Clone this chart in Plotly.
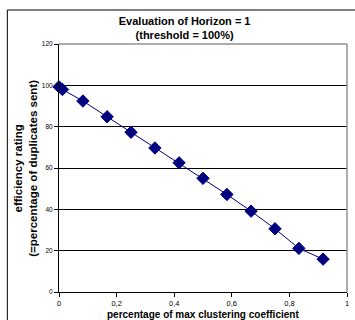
import plotly.graph_objects as go

clustering_pct = [0.0, 0.012, 0.083, 0.167, 0.25, 0.333, 0.417, 0.5, 0.583, 0.667, 0.75, 0.833, 0.917]
efficiency = [99.3, 98.0, 92.4, 84.8, 77.3, 69.7, 62.5, 55.0, 47.2, 39.1, 30.6, 21.1, 15.9]
x_ticks = [0, 0.2, 0.4, 0.6, 0.8, 1]
y_ticks = [0, 20, 40, 60, 80, 100, 120]

FONT = "Liberation Sans, Arial, sans-serif"
NAVY = "#000080"

fig = go.Figure()
fig.add_trace(go.Scatter(
    x=clustering_pct, y=efficiency, mode="lines+markers",
    line=dict(color=NAVY, width=1),
    marker=dict(symbol="diamond", size=9.5, color=NAVY, line=dict(color=NAVY, width=1)),
    showlegend=False, cliponaxis=False,
))

L, R, T, B = 59, 6, 44, 28
W, H = 355, 320
pw = W - L - R
ph = H - T - B

def px_x(p):
    return (p - L) / pw

def px_y(p):
    return (H - B - p) / ph

fig.update_layout(
    width=W, height=H,
    margin=dict(l=L, r=R, t=T, b=B),
    paper_bgcolor="white", plot_bgcolor="white",
    separators=", ",
    font=dict(family=FONT, size=8, color="black"),
    title=dict(
        text="<b>Evaluation of Horizon = 1<br>(threshold = 100%)</b>",
        x=px_x(185.5), xref="paper", xanchor="center",
        y=1 - 25 / H, yref="container", yanchor="middle",
        font=dict(family=FONT, size=11, color="black"),
    ),
    xaxis=dict(
        range=[0, 1], tickvals=x_ticks, ticks="outside", ticklen=4, tickcolor="black",
        showline=True, linecolor="black", linewidth=1, showgrid=False, zeroline=False,
        tickfont=dict(size=7.5), ticklabeloverflow="allow",
    ),
    yaxis=dict(
        range=[0, 120], tickvals=y_ticks, ticks="outside", ticklen=4, tickcolor="black",
        showline=True, linecolor="black", linewidth=1, showgrid=True,
        gridcolor="black", gridwidth=1, zeroline=False, tickfont=dict(size=6.5),
        ticklabeloverflow="allow",
    ),
    shapes=[
        dict(type="line", xref="paper", yref="paper", x0=0, y0=1, x1=1, y1=1,
             line=dict(color="#909090", width=1.5), layer="above"),
        dict(type="line", xref="paper", yref="paper", x0=1, y0=0, x1=1, y1=1,
             line=dict(color="#909090", width=1.5), layer="above"),
        dict(type="rect", xref="paper", yref="paper",
             x0=px_x(7), y0=px_y(340), x1=px_x(364), y1=px_y(10),
             line=dict(color="black", width=1), layer="below"),
    ],
    annotations=[
        dict(text="<b>efficiency rating<br>(=percentage of duplicates sent)</b>",
             xref="paper", yref="paper", x=px_x(24.5), y=0.5, textangle=-90,
             xanchor="center", yanchor="middle", showarrow=False,
             font=dict(family=FONT, size=11.5, color="black")),
        dict(text="<b>percentage of max clustering coefficient</b>",
             xref="paper", yref="paper", x=0.5, y=px_y(314.5),
             xanchor="center", yanchor="middle", showarrow=False,
             font=dict(family=FONT, size=10, color="black")),
    ],
)

fig.write_html(
    "out.html",
    config={"displayModeBar": False},
    post_script="document.body.style.margin='0';document.body.style.padding='0';",
)
